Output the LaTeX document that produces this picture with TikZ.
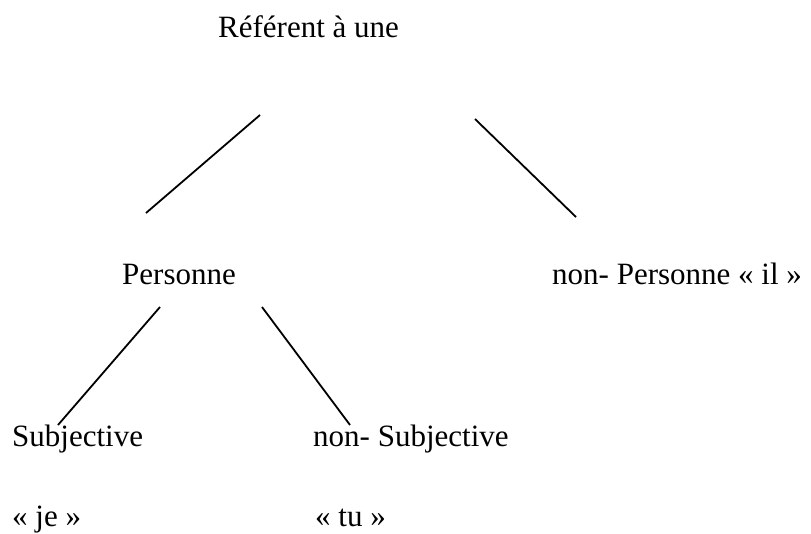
\documentclass[tikz,border=0pt]{standalone}
\usepackage{fontspec}
\setmainfont{Liberation Serif}
\begin{document}
\begin{tikzpicture}[x=1pt,y=-1pt,
  lbl/.style={anchor=base west,inner sep=0pt,font=\fontsize{31}{36}\selectfont},
  branch/.style={line width=1.8pt}]
\useasboundingbox (0,0) rectangle (811,533);
\node[lbl] (ref) at (218,37) {Référent à une};
\node[lbl] (pers) at (122,284) {Personne};
\node[lbl] (nonpers) at (552,284) {non- Personne « il »};
\node[lbl] (subj) at (12,446) {Subjective};
\node[lbl] (nonsubj) at (313,446) {non- Subjective};
\node[lbl] (je) at (12,526) {« je »};
\node[lbl] (tu) at (315,526) {« tu »};
\coordinate (a1) at (260,115);
\coordinate (a2) at (146,213);
\coordinate (b1) at (475,119);
\coordinate (b2) at (576,217);
\coordinate (c1) at (160,307);
\coordinate (c2) at (58,425);
\coordinate (d1) at (262,307);
\coordinate (d2) at (350,425);
\draw[branch] (a1) -- (a2);
\draw[branch] (b1) -- (b2);
\draw[branch] (c1) -- (c2);
\draw[branch] (d1) -- (d2);
\end{tikzpicture}
\end{document}
